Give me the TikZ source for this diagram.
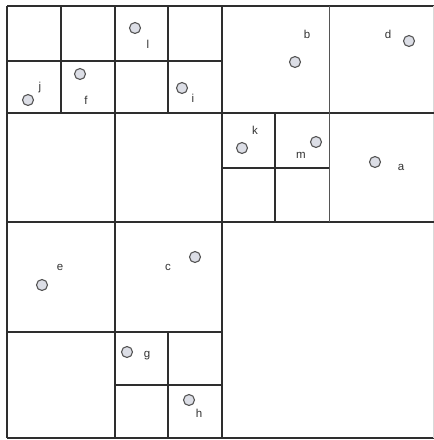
\documentclass[tikz,border=0pt]{standalone}
\usepackage{fontspec}
\setmainfont{Liberation Sans}
\definecolor{linedark}{HTML}{2E2E2E}
\definecolor{linemid}{HTML}{555555}
\definecolor{ptfill}{HTML}{DCDEE6}
\definecolor{txt}{HTML}{333333}
\tikzset{
  heavy/.style={draw=linedark, line width=1.6pt},
  medium/.style={draw=linedark, line width=1.2pt},
  light/.style={draw=linemid, line width=0.9pt},
  pt/.style={circle, draw=linemid, fill=ptfill, line width=1.1pt, minimum size=11pt, inner sep=0pt},
  lbl/.style={text=txt, font=\fontsize{11.5}{13}\selectfont, inner sep=0pt}
}
\begin{document}
\begin{tikzpicture}[x=1pt,y=-1pt]
\useasboundingbox (0,0) rectangle (434,440);
\fill[white] (0,0) rectangle (434,440);
% outer border
\draw[heavy] (7,6) -- (434,6);
\draw[heavy] (7,438) -- (434,438);
\draw[heavy] (7,6) -- (7,438);
\draw[draw=gray!30, line width=0.8pt] (433,6) -- (433,438);
% main quadrant lines
\draw[heavy] (222,6) -- (222,438);
\draw[heavy] (7,222) -- (434,222);
% second level
\draw[medium] (115,6) -- (115,438);
\draw[heavy] (7,113) -- (434,113);
\draw[light] (329,6) -- (329,222);
\draw[medium] (7,332) -- (222,332);
% third level: top-left
\draw[heavy] (61,6) -- (61,113);
\draw[heavy] (168,6) -- (168,113);
\draw[medium] (7,61) -- (222,61);
% third level: k/m block
\draw[heavy] (275,113) -- (275,222);
\draw[heavy] (222,168) -- (329,168);
% third level: g/h block
\draw[heavy] (168,332) -- (168,438);
\draw[heavy] (115,385) -- (222,385);
% points
\node[pt] (pl) at (135,28) {};
\node[lbl] (tl) at (148,44) {l};
\node[pt] (pj) at (28,100) {};
\node[lbl] (tj) at (40,88) {j};
\node[pt] (pf) at (80,74) {};
\node[lbl] (tf) at (86,100) {f};
\node[pt] (pi) at (182,88) {};
\node[lbl] (ti) at (193,98) {i};
\node[pt] (pb) at (295,62) {};
\node[lbl] (tb) at (307,34) {b};
\node[pt] (pd) at (409,41) {};
\node[lbl] (td) at (388,34) {d};
\node[pt] (pk) at (242,148) {};
\node[lbl] (tk) at (255,130) {k};
\node[pt] (pm) at (316,142) {};
\node[lbl] (tm) at (301,155) {m};
\node[pt] (pa) at (375,162) {};
\node[lbl] (ta) at (401,167) {a};
\node[pt] (pe) at (42,285) {};
\node[lbl] (te) at (60,267) {e};
\node[pt] (pc) at (195,257) {};
\node[lbl] (tc) at (168,267) {c};
\node[pt] (pg) at (127,352) {};
\node[lbl] (tg) at (147,356) {g};
\node[pt] (ph) at (189,400) {};
\node[lbl] (th) at (199,413) {h};
\end{tikzpicture}
\end{document}
